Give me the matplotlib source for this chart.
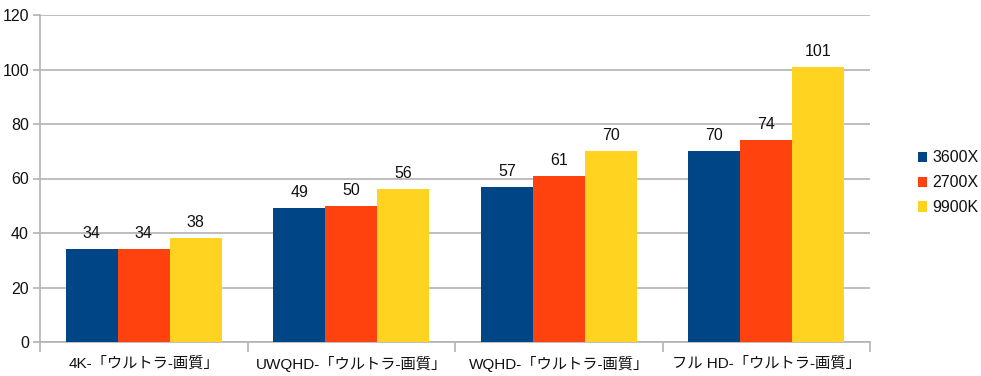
import matplotlib
matplotlib.use("Agg")
import matplotlib.pyplot as plt
import numpy as np

plt.rcParams['font.family'] = ['Liberation Sans', 'Noto Sans CJK JP', 'DejaVu Sans']

categories = ["4K-「ウルトラ-画質」", "UWQHD-「ウルトラ-画質」", "WQHD-「ウルトラ-画質」", "フル HD-「ウルトラ-画質」"]
series_names = ["3600X", "2700X", "9900K"]
v3600x = [34, 49, 57, 70]
v2700x = [34, 50, 61, 74]
v9900k = [38, 56, 70, 101]
colors = ["#004586", "#ff420e", "#ffd320"]
yticks = [0, 20, 40, 60, 80, 100, 120]

fig = plt.figure(figsize=(9.81, 3.76), dpi=100)
ax = fig.add_axes([40/981, 34/376, 830/981, 327/376])

x = np.arange(len(categories))
w = 0.25
grid_c = "#b3b3b3"
txt_c = "#111111"
for i, (vals, c, name) in enumerate(zip([v3600x, v2700x, v9900k], colors, series_names)):
    bars = ax.bar(x + (i - 1) * w, vals, width=w, color=c, label=name, zorder=3)
    for b, v in zip(bars, vals):
        ax.text(b.get_x() + b.get_width() / 2, v + 3, str(v), ha="center", va="bottom",
                fontsize=11.5, color=txt_c)

ax.set_xlim(-0.5, len(categories) - 0.5)
ax.set_ylim(0, 120)
ax.set_yticks(yticks)
ax.set_yticklabels([str(t) for t in yticks], fontsize=11.5, color=txt_c)
ax.yaxis.grid(True, color=grid_c, linewidth=1.2, zorder=0)
ax.set_axisbelow(True)
ax.tick_params(axis="y", length=5, color=grid_c, width=1.2, pad=3)

# category labels and separator ticks
ax.set_xticks(np.arange(len(categories) + 1) - 0.5)
ax.set_xticklabels([])
ax.set_xticks(x, minor=True)
ax.set_xticklabels(categories, minor=True, fontsize=11, color=txt_c)
ax.tick_params(axis="x", which="major", length=7, color=grid_c, width=1.2)
ax.tick_params(axis="x", which="minor", length=0, pad=10)

for s in ["top", "right"]:
    ax.spines[s].set_visible(False)
for s in ["left", "bottom"]:
    ax.spines[s].set_color(grid_c)
    ax.spines[s].set_linewidth(1.2)

leg = ax.legend(loc="center left", bbox_to_anchor=(1.04, 0.487), frameon=False, fontsize=11.5,
                handlelength=0.6, handleheight=0.6, handletextpad=0.35, labelspacing=0.62)
for t in leg.get_texts():
    t.set_color(txt_c)

fig.savefig("out.png", dpi=100)
